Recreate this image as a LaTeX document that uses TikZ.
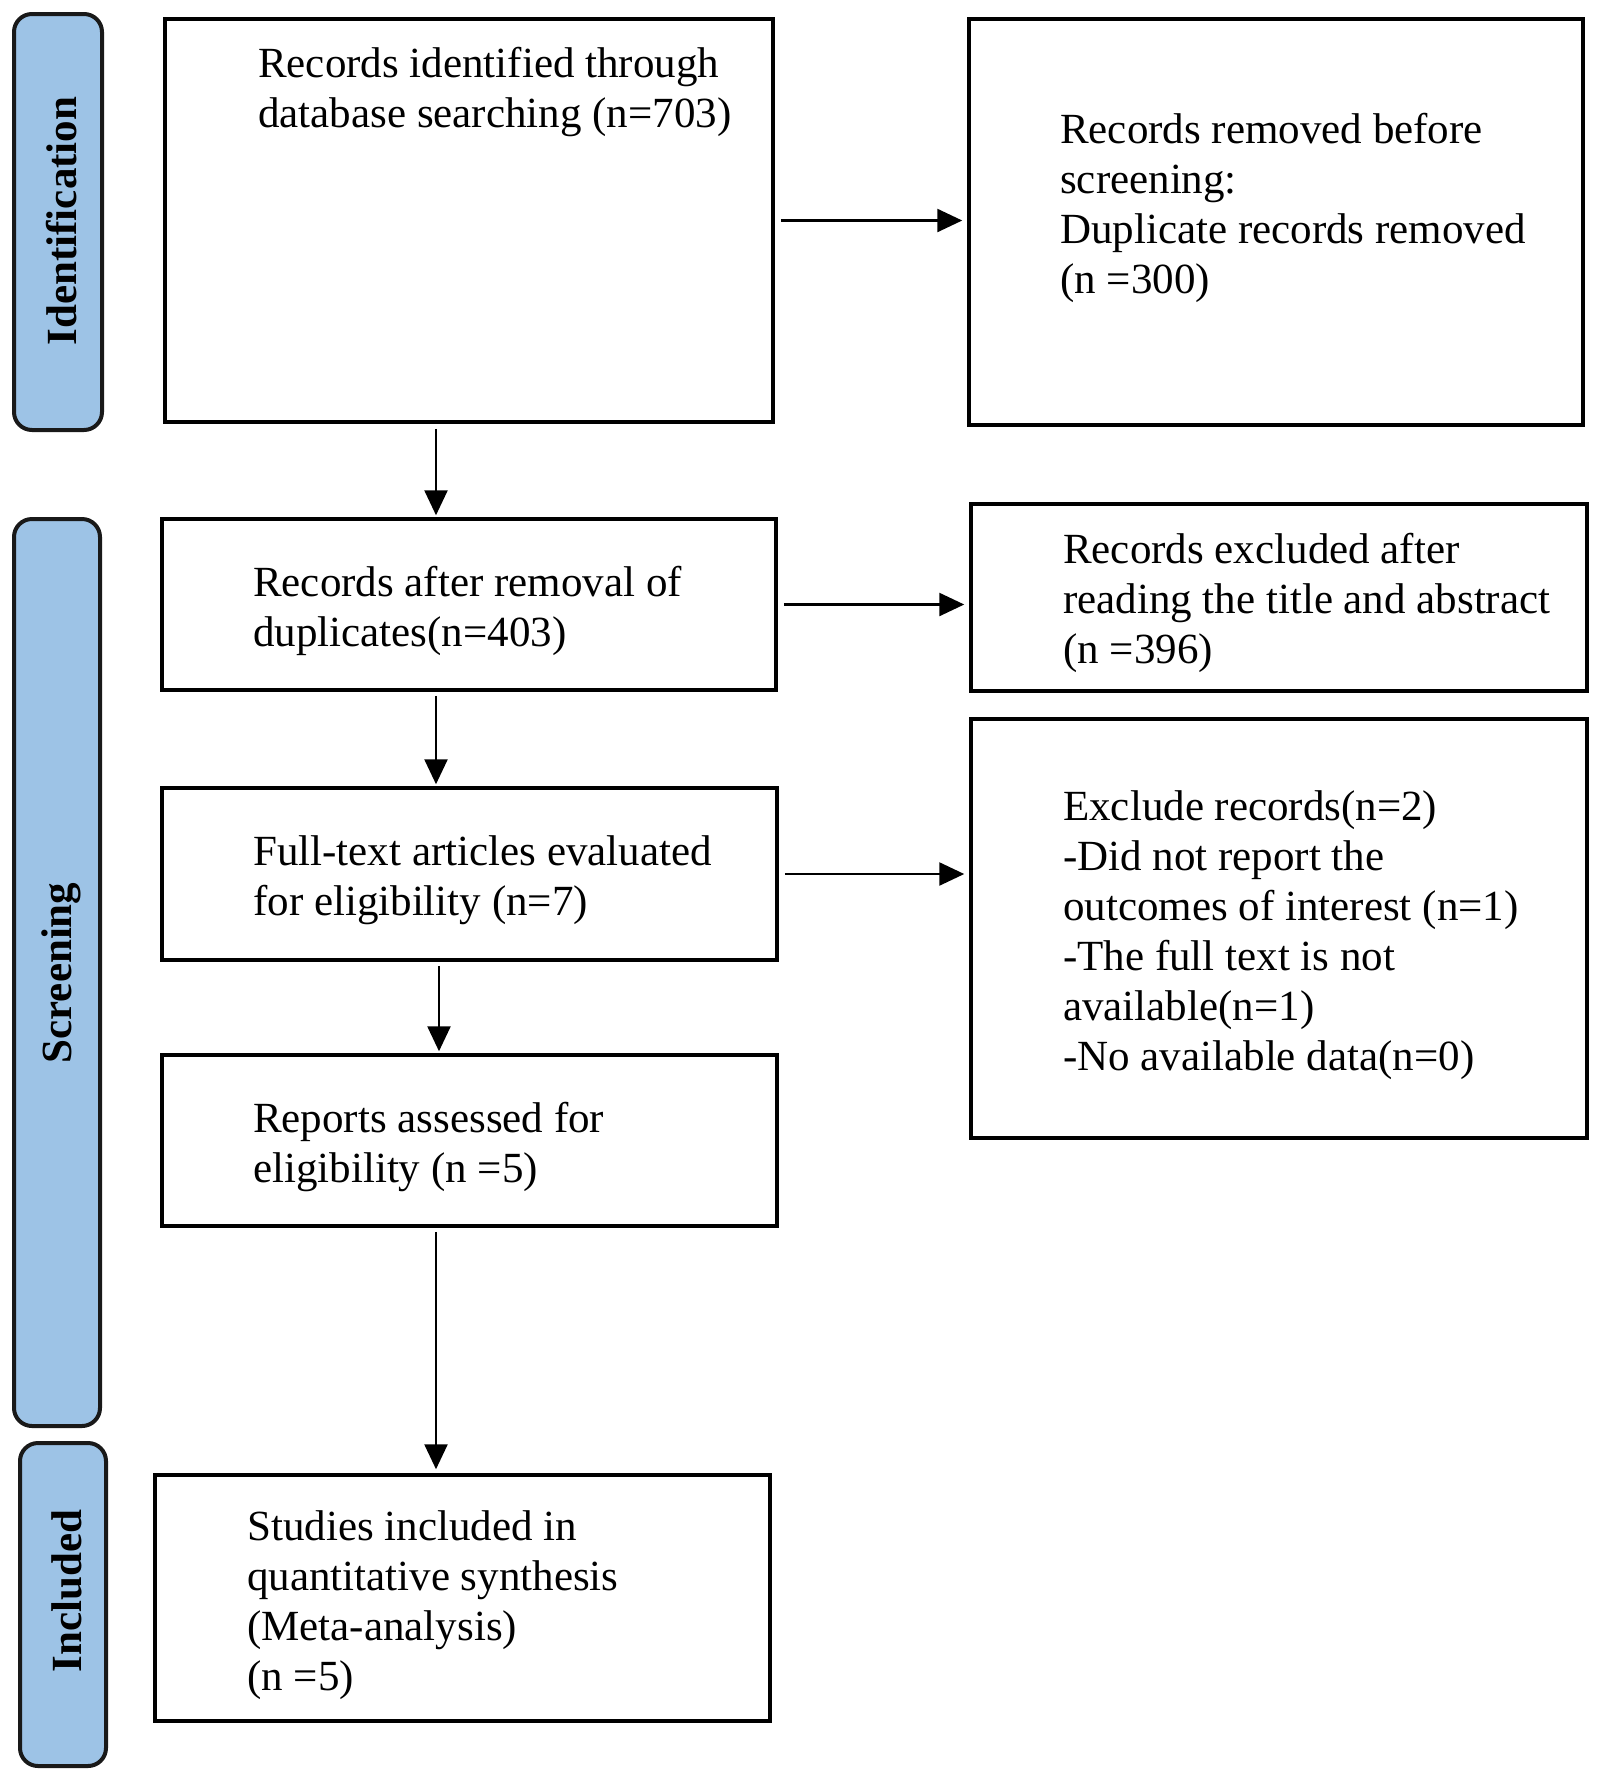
\documentclass[tikz,border=0pt]{standalone}
\usepackage{fontspec}
\setmainfont{Liberation Serif}
\usetikzlibrary{arrows.meta}
\definecolor{pillblue}{HTML}{9DC3E6}
\begin{document}
\begin{tikzpicture}[x=1pt,y=-1pt,
  box/.style={draw=black, line width=3.5pt, inner sep=0pt},
  txt/.style={align=left, inner sep=0pt, font=\fontsize{43}{50}\selectfont},
  pill/.style={draw=black!90, fill=pillblue, line width=4pt, rounded corners=18pt, inner sep=0pt},
  pilltxt/.style={rotate=90, inner sep=0pt, font=\fontsize{43}{50}\selectfont\bfseries},
  arr/.style={line width=2.5pt, -{Triangle[length=25pt,width=23pt]}}]
\useasboundingbox (0,0) rectangle (1598,1778);

% phase pills
\node[pill, minimum width=88pt, minimum height=416pt] (p1) at (58,222) {};
\node[pill, minimum width=86pt, minimum height=907pt] (p2) at (57,972.5) {};
\node[pill, minimum width=86pt, minimum height=323pt] (p3) at (63,1604.5) {};
\node[pilltxt] (l1) at (62,221) {Identification};
\node[pilltxt] (l2) at (61,973) {Screening};
\node[pilltxt] (l3) at (67,1591) {Included};

% boxes
\node[box, minimum width=608pt, minimum height=403pt] (b1) at (469,220.5) {};
\node[box, minimum width=614pt, minimum height=406pt] (b2) at (1276,222) {};
\node[box, minimum width=614pt, minimum height=171pt] (b3) at (469,604.5) {};
\node[box, minimum width=616pt, minimum height=187pt] (b4) at (1279,597.5) {};
\node[box, minimum width=615pt, minimum height=172pt] (b5) at (469.5,874) {};
\node[box, minimum width=616pt, minimum height=419pt] (b6) at (1279,928.5) {};
\node[box, minimum width=615pt, minimum height=171pt] (b7) at (469.5,1140.5) {};
\node[box, minimum width=615pt, minimum height=246pt] (b8) at (462.5,1598) {};

% texts
\node[txt, anchor=north west] (t1) at (258,47) {Records identified through\\database searching (n=703)};
\node[txt, anchor=west] (t2) at (1060,208) {Records removed before\\screening:\\Duplicate records removed\\(n =300)};
\node[txt, anchor=west] (t3) at (253,611) {Records after removal of\\duplicates(n=403)};
\node[txt, anchor=west] (t4) at (1063,603) {Records excluded after\\reading the title and abstract\\(n =396)};
\node[txt, anchor=west] (t5) at (253,880) {Full-text articles evaluated\\for eligibility (n=7)};
\node[txt, anchor=west] (t6) at (1063,935) {Exclude records(n=2)\\-Did not report the\\outcomes of interest (n=1)\\-The full text is not\\available(n=1)\\-No available data(n=0)};
\node[txt, anchor=west] (t7) at (253,1147) {Reports assessed for\\eligibility (n =5)};
\node[txt, anchor=west] (t8) at (247,1605) {Studies included in\\quantitative synthesis\\(Meta-analysis)\\(n =5)};

% connectors
\coordinate (ax) at (436,0);
\coordinate (ax2) at (439,0);
\draw[arr, shorten <=6pt, shorten >=5pt] (b1.east) -- (b1.east -| b2.west);
\draw[arr, shorten <=6pt, shorten >=5pt] (b3.east) -- (b3.east -| b4.west);
\draw[arr, shorten <=6pt, shorten >=5pt] (b5.east) -- (b5.east -| b6.west);
\draw[arr, shorten <=5pt, shorten >=2pt] (b1.south -| ax) -- (b3.north -| ax);
\draw[arr, shorten <=4pt, shorten >=2pt] (b3.south -| ax) -- (b5.north -| ax);
\draw[arr, shorten <=4pt, shorten >=2pt] (b5.south -| ax2) -- (b7.north -| ax2);
\draw[arr, shorten <=4pt, shorten >=4pt] (b7.south -| ax) -- (b8.north -| ax);
\end{tikzpicture}
\end{document}
